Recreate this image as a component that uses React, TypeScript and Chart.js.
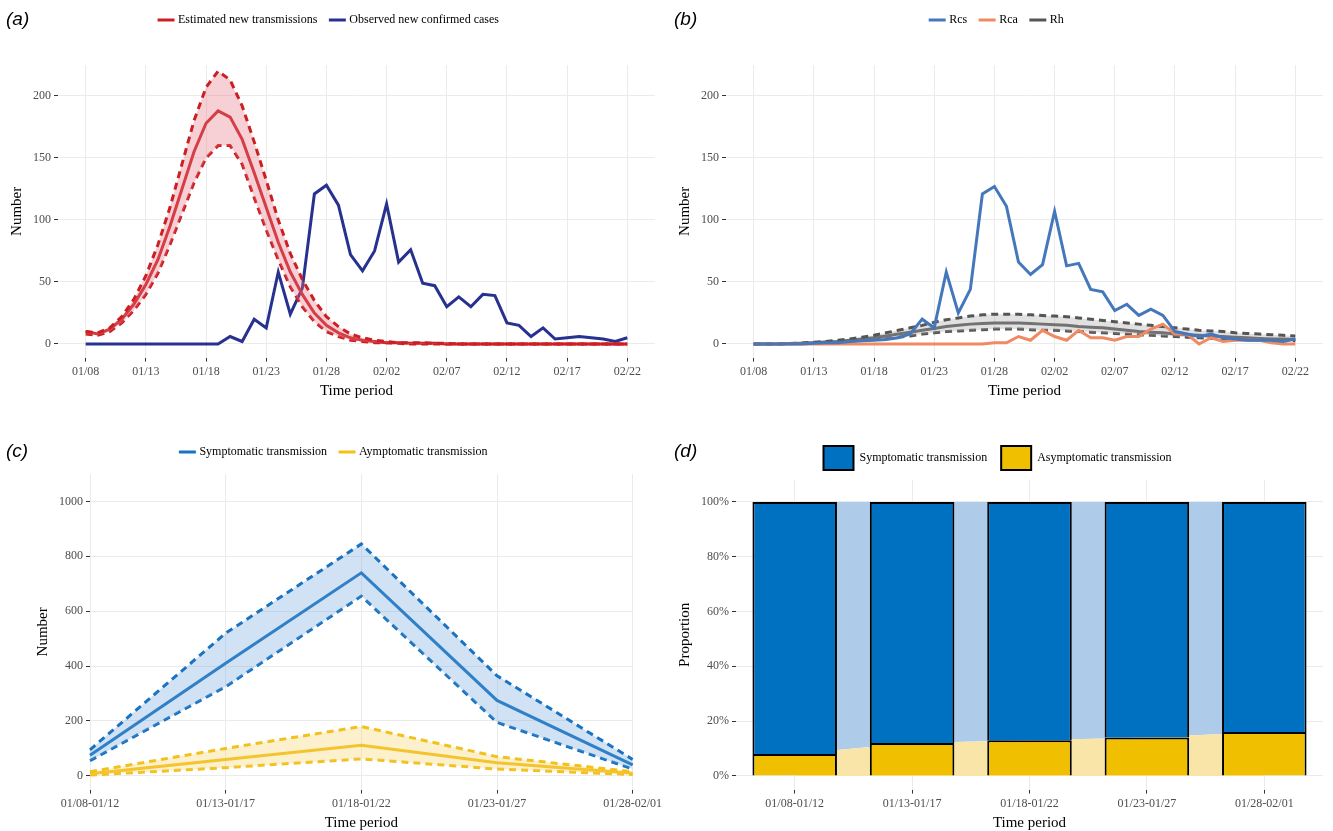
import { useEffect, useRef } from "react";
import { Chart, ChartConfiguration, registerables } from "chart.js";

Chart.register(...registerables);

const days = [
  "01/08","01/09","01/10","01/11","01/12","01/13","01/14","01/15","01/16","01/17","01/18","01/19",
  "01/20","01/21","01/22","01/23","01/24","01/25","01/26","01/27","01/28","01/29","01/30","01/31",
  "02/01","02/02","02/03","02/04","02/05","02/06","02/07","02/08","02/09","02/10","02/11","02/12",
  "02/13","02/14","02/15","02/16","02/17","02/18","02/19","02/20","02/21","02/22",
];

const estimated = [10,8,12,20,32,48,68,95,125,155,178,188,183,165,138,110,82,58,40,25,15,9,5,3,2,1,1,0.5,0.5,0.5,0,0,0,0,0,0,0,0,0,0,0,0,0,0,0,0];
const estimatedHi = [10,9,13,22,36,55,80,110,145,180,207,220,213,192,163,132,100,73,52,35,22,14,8,5,3,2,1,1,1,0.5,0.5,0,0,0,0,0,0,0,0,0,0,0,0,0,0,0];
const estimatedLo = [8,7,10,17,27,40,57,80,105,130,150,160,160,145,118,92,68,46,30,18,10,6,3,2,1,1,0.5,0,0,0,0,0,0,0,0,0,0,0,0,0,0,0,0,0,0,0];
const observed = [0,0,0,0,0,0,0,0,0,0,0,0,6,2,20,13,58,24,45,121,128,112,72,59,75,113,66,76,49,47,30,38,30,40,39,17,15,6,13,4,5,6,5,4,2,5];

const rcs = [0,0,0,0,0,0.5,1,1,2,2.5,3,3.5,5,8,20,13,58,25,44,121,127,111,66,56,64,107,63,65,44,42,27,32,23,28,23,10,8,6,8,5,4,3,3,3,2,4];
const rca = [0,0,0,0,0,0,0,0,0,0,0,0,0,0,0,0,0,0,0,0,1,1,6,3,11,6,3,11,5,5,3,6,6,12,16,8,8,0,5,2,3,3,3,1,0,0];
const rh = [0,0,0,0.3,0.6,1,1.5,2,3,4,5,6.5,8,9.5,11,12.5,14,15,16,16.5,17,17,17,16.5,16,15.5,15,14,13.5,13,12,11,10,9.5,9,8,7.5,7,6.5,6,5.5,5,4.5,4,4,3.5];
const rhHi = [0,0,0,0.4,0.8,1.4,2,3,4,5.5,7,9,11,13,15,17.5,19.5,21,22.5,23.5,24,24,24,23.5,23,22.5,22,21,20,19,18,17,16,15,14,13,12,11,10.5,10,9,8.5,8,7.5,7,6.5];
const rhLo = [0,0,0,0.2,0.4,0.7,1,1.5,2,3,3.5,4.5,5.5,6.5,8,9,10,10.5,11,11.5,12,12,12,11.5,11,11,10.5,10,9.5,9,8.5,8,7.5,7,6.5,6,5.5,5,4.5,4,4,3.5,3,3,3,2.5];

const periods = ["01/08-01/12","01/13-01/17","01/18-01/22","01/23-01/27","01/28-02/01"];
const sympt = [75,410,740,275,40];
const symptHi = [95,520,845,365,60];
const symptLo = [55,325,655,195,25];
const asympt = [8,60,112,48,10];
const asymptHi = [15,100,180,70,15];
const asymptLo = [3,30,62,25,5];

const asymPct = [8,12,13,14,16];
const symPct = asymPct.map((v) => 100 - v);

const SERIF = "'Liberation Serif', 'DejaVu Serif', serif";
const GRID = "#ebebeb";

const pts = (arr: number[]) => arr.map((y, x) => ({ x, y }));

function line(label: string, data: any, color: string, opts: any = {}) {
  return {
    type: "line",
    label,
    data,
    borderColor: color,
    backgroundColor: color,
    borderWidth: 3,
    pointRadius: 0,
    tension: 0,
    fill: false,
    ...opts,
  };
}

function band(data: any, color: string, fillColor: string, fill: any) {
  return line("", data, color, { borderDash: [7, 5], backgroundColor: fillColor, fill });
}

const legendCfg = (boxes = false) => ({
  display: true,
  position: "top" as const,
  labels: {
    filter: (it: any) => it.text !== "",
    font: { family: SERIF, size: 12 },
    color: "#000",
    usePointStyle: !boxes,
    pointStyle: "line",
    boxWidth: 30,
    boxHeight: boxes ? 24 : 12,
    padding: 14,
  },
});

const yAxis = (title: string, min: number, max: number, top: number, step: number, fmt?: (v: number) => string) => ({
  min,
  max,
  title: { display: true, text: title, font: { family: SERIF, size: 15 }, color: "#000" },
  border: { display: false },
  grid: { color: GRID, tickColor: "#333", tickLength: 4 },
  afterBuildTicks: (s: any) => {
    s.ticks = [];
    for (let v = 0; v <= top; v += step) s.ticks.push({ value: v });
  },
  ticks: {
    font: { family: SERIF, size: 12 },
    color: "#4d4d4d",
    callback: (v: any) => (fmt ? fmt(v) : v),
  },
});

const xTitle = { display: true, text: "Time period", font: { family: SERIF, size: 15 }, color: "#000", padding: 0 };

const dayAxis = {
  type: "linear" as const,
  min: -2.3,
  max: 47.3,
  title: xTitle,
  border: { display: false },
  grid: { color: GRID, tickColor: "#333", tickLength: 4 },
  afterBuildTicks: (s: any) => {
    s.ticks = [];
    for (let i = 0; i < days.length; i += 5) s.ticks.push({ value: i });
  },
  ticks: {
    font: { family: SERIF, size: 12 },
    color: "#4d4d4d",
    maxRotation: 0,
    callback: (v: any) => days[v] ?? "",
  },
};

const catAxis = (stacked = false) => ({
  type: "category" as const,
  offset: true,
  stacked,
  title: xTitle,
  border: { display: false },
  grid: { color: GRID, tickColor: "#333", tickLength: 4, offset: false },
  ticks: { font: { family: SERIF, size: 12 }, color: "#4d4d4d", maxRotation: 0 },
});

const base = (legend: any, scales: any): any => ({
  responsive: true,
  maintainAspectRatio: false,
  animation: false,
  layout: { padding: { top: 0, right: 10, left: 4, bottom: 2 } },
  plugins: { legend, tooltip: { enabled: false } },
  scales,
});

const configA: any = {
  type: "line",
  data: {
    datasets: [
      band(pts(estimatedHi), "#cc1f24", "rgba(230,120,135,0.35)", "+1"),
      band(pts(estimatedLo), "#cc1f24", "transparent", false),
      line("Estimated new transmissions", pts(estimated), "#cc1f24"),
      line("Observed new confirmed cases", pts(observed), "#27318f"),
    ],
  },
  options: base(legendCfg(), { x: dayAxis, y: yAxis("Number", -11, 225, 200, 50) }),
};

const configB: any = {
  type: "line",
  data: {
    datasets: [
      line("Rcs", pts(rcs), "#4477bb"),
      line("Rca", pts(rca), "#ef8a62"),
      band(pts(rhHi), "#555", "rgba(170,170,170,0.35)", "+1"),
      band(pts(rhLo), "#555", "transparent", false),
      line("Rh", pts(rh), "#555"),
    ],
  },
  options: base(legendCfg(), { x: dayAxis, y: yAxis("Number", -11, 225, 200, 50) }),
};

const configC: any = {
  type: "line",
  data: {
    labels: periods,
    datasets: [
      band(symptHi, "#1a73c2", "rgba(100,160,215,0.3)", "+1"),
      band(symptLo, "#1a73c2", "transparent", false),
      line("Symptomatic transmission", sympt, "#1a73c2"),
      band(asymptHi, "#f2c11a", "rgba(245,205,90,0.3)", "+1"),
      band(asymptLo, "#f2c11a", "transparent", false),
      line("Aymptomatic transmission", asympt, "#f2c11a"),
    ],
  },
  options: base(legendCfg(), {
    x: { ...catAxis(), offset: false },
    y: yAxis("Number", -50, 1100, 1000, 200),
  }),
};
configC.options.layout.padding.left = 30;
configC.options.layout.padding.right = 26;

const configD: any = {
  type: "bar",
  data: {
    labels: periods,
    datasets: [
      { type: "bar", label: "Asymptomatic transmission", data: asymPct, backgroundColor: "#f0c000", borderColor: "#000", borderWidth: 2, barPercentage: 0.72, categoryPercentage: 1, stack: "s", order: 1 },
      { type: "bar", label: "Symptomatic transmission", data: symPct, backgroundColor: "#0070c0", borderColor: "#000", borderWidth: 2, barPercentage: 0.72, categoryPercentage: 1, stack: "s", order: 1 },
      { type: "line", label: "", data: asymPct, borderWidth: 0, pointRadius: 0, fill: "origin", backgroundColor: "#fae5a8", stack: "area", order: 2 },
      { type: "line", label: "", data: symPct, borderWidth: 0, pointRadius: 0, fill: "-1", backgroundColor: "#aecbe9", stack: "area", order: 2 },
    ],
  },
  options: base(
    {
      ...legendCfg(true),
      reverse: true,
      labels: { ...legendCfg(true).labels, usePointStyle: false, filter: (it: any) => it.text !== "" },
    },
    {
      x: catAxis(true),
      y: { ...yAxis("Proportion", -5, 108, 100, 20, (v) => v + "%"), stacked: true },
    }
  ),
};

// extra space below the legend
const legendGap = (extra: number) => ({
  id: "legendGap",
  beforeInit(chart: any) {
    const fit = chart.legend.fit;
    chart.legend.fit = function () {
      fit.call(this);
      this.height += extra;
    };
  },
});

function Panel({ config, tag, left, top, gap }: { config: ChartConfiguration; tag: string; left: number; top: number; gap: number }) {
  const ref = useRef<HTMLCanvasElement>(null);
  useEffect(() => {
    if (!ref.current) return;
    const chart = new Chart(ref.current, { ...config, plugins: [legendGap(gap)] } as any);
    return () => chart.destroy();
  }, [config, gap]);
  return (
    <div style={{ position: "absolute", left, top, width: 665, height: 405 }}>
      <div style={{ position: "absolute", left: 6, top: 8, fontFamily: "'Liberation Sans', sans-serif", fontStyle: "italic", fontSize: 19, zIndex: 1 }}>
        ({tag})
      </div>
      <div style={{ position: "absolute", left: 0, top: 0, width: 665, height: 402 }}>
        <canvas ref={ref} />
      </div>
    </div>
  );
}

export default function App() {
  return (
    <div style={{ position: "fixed", left: 0, top: 0, width: 1333, height: 831, background: "#fff" }}>
      <Panel config={configA} tag="a" left={0} top={0} gap={29} />
      <Panel config={configB} tag="b" left={668} top={0} gap={29} />
      <Panel config={configC} tag="c" left={0} top={432} gap={6} />
      <Panel config={configD} tag="d" left={668} top={432} gap={0} />
    </div>
  );
}
